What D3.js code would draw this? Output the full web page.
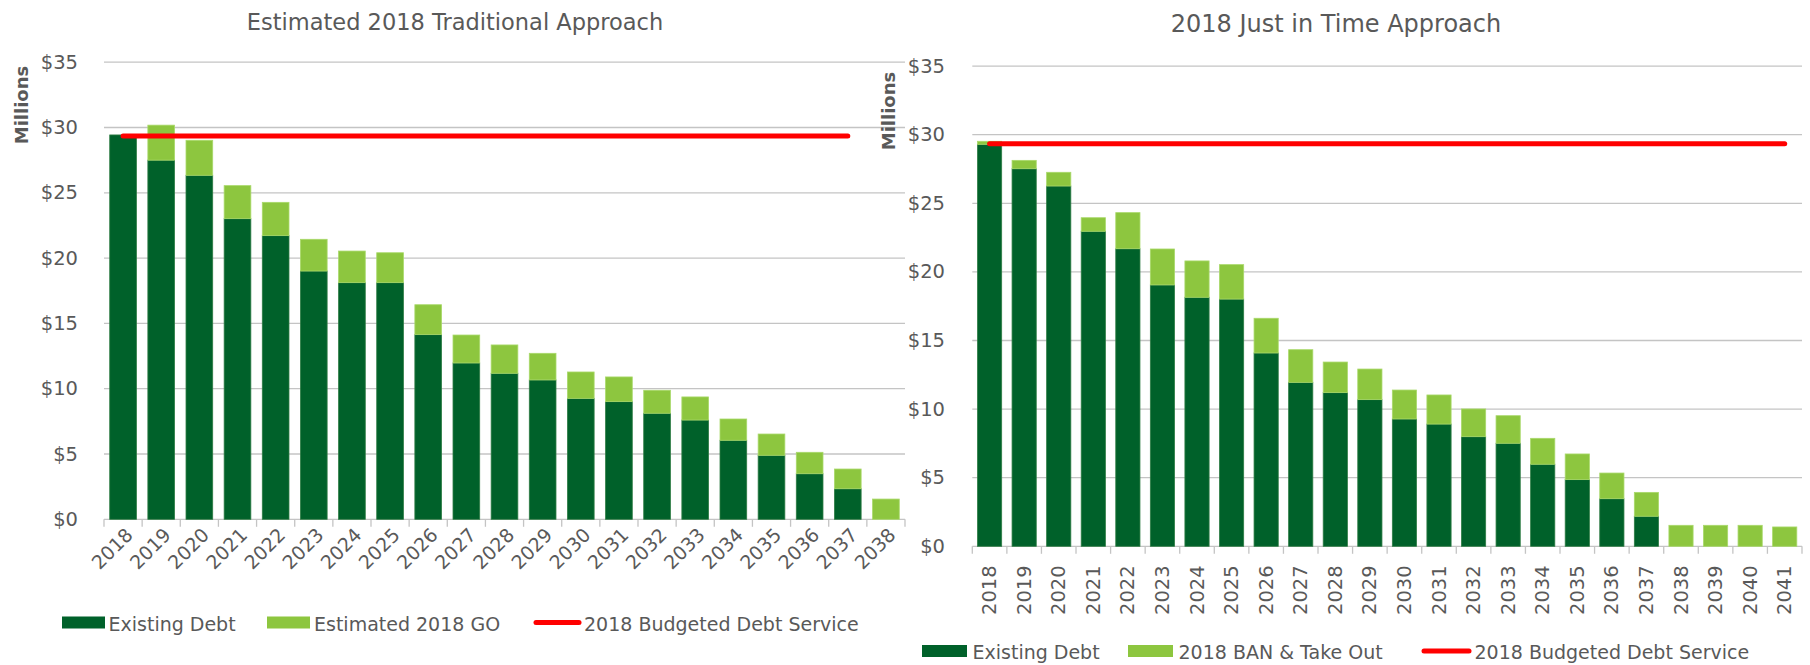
<!DOCTYPE html>
<html>
<head>
<meta charset="utf-8">
<script src="https://cdn.jsdelivr.net/npm/d3@7"></script>
<style>
  html, body { margin: 0; padding: 0; background: #ffffff; }
  svg { display: block; }
  text { font-family: "DejaVu Sans", sans-serif; fill: #595959; }
</style>
</head>
<body>
<svg id="chart" width="1810" height="665"></svg>
<script>
// ---------- DATA ----------
const yearsLeft = ["2018","2019","2020","2021","2022","2023","2024","2025","2026","2027","2028","2029","2030","2031","2032","2033","2034","2035","2036","2037","2038"];
const existingLeft = [29.43, 27.50, 26.34, 23.02, 21.72, 19.01, 18.12, 18.12, 14.14, 11.97, 11.18, 10.67, 9.26, 9.01, 8.12, 7.60, 6.05, 4.90, 3.49, 2.34, 0];
const goLeft       = [0.00, 2.68, 2.68, 2.53, 2.55, 2.43, 2.42, 2.29, 2.29, 2.14, 2.17, 2.04, 2.02, 1.89, 1.76, 1.77, 1.63, 1.63, 1.64, 1.51, 1.55];
const budgetLeft   = [29.35, 29.35, 29.35, 29.35, 29.35, 29.35, 29.35, 29.35, 29.35, 29.35, 29.35, 29.35, 29.35, 29.35, 29.35, 29.35, 29.35, 29.35, 29.35, 29.35, null];

const yearsRight = ["2018","2019","2020","2021","2022","2023","2024","2025","2026","2027","2028","2029","2030","2031","2032","2033","2034","2035","2036","2037","2038","2039","2040","2041"];
const existingRight = [29.30, 27.52, 26.26, 22.96, 21.69, 19.05, 18.15, 18.02, 14.09, 11.95, 11.20, 10.69, 9.28, 8.91, 7.99, 7.51, 5.98, 4.86, 3.47, 2.19, 0, 0, 0, 0];
const banRight      = [0.22, 0.61, 1.00, 0.99, 2.63, 2.62, 2.65, 2.51, 2.53, 2.38, 2.23, 2.23, 2.11, 2.12, 2.02, 2.01, 1.89, 1.87, 1.87, 1.74, 1.53, 1.53, 1.53, 1.41];
const budgetRight   = [29.34, 29.34, 29.34, 29.34, 29.34, 29.34, 29.34, 29.34, 29.34, 29.34, 29.34, 29.34, 29.34, 29.34, 29.34, 29.34, 29.34, 29.34, 29.34, 29.34, 29.34, 29.34, 29.34, 29.34];

const yTicks = [0, 5, 10, 15, 20, 25, 30, 35];
const yTickLabels = ["$0", "$5", "$10", "$15", "$20", "$25", "$30", "$35"];

const leftTitle = "Estimated 2018 Traditional Approach";
const rightTitle = "2018 Just in Time Approach";
const leftLegend = ["Existing Debt", "Estimated 2018 GO", "2018 Budgeted Debt Service"];
const rightLegend = ["Existing Debt", "2018 BAN & Take Out", "2018 Budgeted Debt Service"];
const yAxisTitle = "Millions";

// ---------- STYLE ----------
const DARK = "#00612A";
const LIGHT = "#8DC63F";
const RED = "#FF0000";
const GRID = "#C4C4C4";

const svg = d3.select("#chart");

function drawChart(cfg) {
  const g = svg.append("g");
  const x = d3.scaleBand().domain(cfg.years).range([cfg.x0, cfg.x1]).paddingInner(0.3).paddingOuter(0.15);
  const y = d3.scaleLinear().domain([0, 35]).range([cfg.yb, cfg.yt]);

  // gridlines
  g.append("g").selectAll("line").data(yTicks).join("line")
    .attr("x1", cfg.x0).attr("x2", cfg.x1)
    .attr("y1", d => y(d)).attr("y2", d => y(d))
    .attr("stroke", GRID).attr("stroke-width", 1.3);

  // y labels
  g.append("g").selectAll("text").data(yTicks).join("text")
    .attr("x", cfg.labelX).attr("y", d => y(d))
    .attr("text-anchor", "end").attr("dominant-baseline", "central")
    .attr("font-size", 19.5)
    .text((d, i) => yTickLabels[i]);

  // x axis ticks at band boundaries
  const step = x.step();
  const bounds = d3.range(cfg.years.length + 1).map(i => cfg.x0 + i * step);
  g.append("g").selectAll("line").data(bounds).join("line")
    .attr("x1", d => d).attr("x2", d => d)
    .attr("y1", y(0)).attr("y2", y(0) + 7.5)
    .attr("stroke", GRID).attr("stroke-width", 1.3);

  // stacked bars
  const rows = cfg.years.map((yr, i) => ({ yr, a: cfg.s1[i], b: cfg.s2[i] }));
  const bw = x.bandwidth();
  g.append("g").selectAll("rect").data(rows.filter(r => r.a > 0)).join("rect")
    .attr("x", d => x(d.yr)).attr("width", bw)
    .attr("y", d => y(d.a)).attr("height", d => y(0) - y(d.a))
    .attr("fill", DARK).attr("stroke", "#2f7d45").attr("stroke-width", 0.8);
  g.append("g").selectAll("rect").data(rows.filter(r => r.b > 0)).join("rect")
    .attr("x", d => x(d.yr)).attr("width", bw)
    .attr("y", d => y(d.a + d.b)).attr("height", d => y(d.a) - y(d.a + d.b))
    .attr("fill", LIGHT).attr("stroke", "#a9d96a").attr("stroke-width", 0.8);

  // budget line
  const line = d3.line()
    .defined(d => d.v != null)
    .x(d => x(d.yr) + bw / 2).y(d => y(d.v));
  g.append("path")
    .datum(cfg.years.map((yr, i) => ({ yr, v: cfg.line[i] })))
    .attr("d", line).attr("fill", "none")
    .attr("stroke", RED).attr("stroke-width", 5).attr("stroke-linecap", "round");

  // x labels
  const xl = g.append("g").selectAll("text").data(cfg.years).join("text")
    .attr("font-size", 19)
    .text(d => d);
  if (cfg.rot === -45) {
    xl.attr("text-anchor", "end")
      .attr("transform", d => `translate(${x(d) + bw / 2 + 6},${y(0) + 12}) rotate(-45)`)
      .attr("dominant-baseline", "central");
  } else {
    xl.attr("text-anchor", "end")
      .attr("transform", d => `translate(${x(d) + bw / 2},${y(0) + 19}) rotate(-90)`)
      .attr("dominant-baseline", "central")
      .attr("font-size", 19.5);
  }

  // title
  g.append("text").attr("x", cfg.titleX).attr("y", cfg.titleY)
    .attr("text-anchor", "middle").attr("font-size", cfg.titleSize)
    .text(cfg.title);

  // y axis title
  g.append("text")
    .attr("transform", `translate(${cfg.ytX},${cfg.ytY}) rotate(-90)`)
    .attr("text-anchor", "middle").attr("dominant-baseline", "central")
    .attr("font-size", 18).attr("font-weight", "bold")
    .text(yAxisTitle);

  // legend
  const lg = g.append("g");
  const L = cfg.legend;
  lg.append("rect").attr("x", L.sw1).attr("y", L.y - 6).attr("width", L.swW).attr("height", 12).attr("fill", DARK);
  lg.append("text").attr("x", L.t1).attr("y", L.y + 1).attr("dominant-baseline", "central").attr("font-size", 19).text(cfg.legendText[0]);
  lg.append("rect").attr("x", L.sw2).attr("y", L.y - 6).attr("width", L.swW).attr("height", 12).attr("fill", LIGHT);
  lg.append("text").attr("x", L.t2).attr("y", L.y + 1).attr("dominant-baseline", "central").attr("font-size", 19).text(cfg.legendText[1]);
  lg.append("line").attr("x1", L.l3).attr("x2", L.l3 + L.swW).attr("y1", L.y).attr("y2", L.y)
    .attr("stroke", RED).attr("stroke-width", 5).attr("stroke-linecap", "round");
  lg.append("text").attr("x", L.t3).attr("y", L.y + 1).attr("dominant-baseline", "central").attr("font-size", 19).text(cfg.legendText[2]);
}

drawChart({
  years: yearsLeft, s1: existingLeft, s2: goLeft, line: budgetLeft,
  x0: 104, x1: 905, yb: 519.3, yt: 62.2, labelX: 78, rot: -45,
  title: leftTitle, titleX: 455, titleY: 30, titleSize: 22.5,
  ytX: 21, ytY: 105,
  legendText: leftLegend,
  legend: { y: 622.5, swW: 43, sw1: 62, t1: 108.5, sw2: 267, t2: 314, l3: 536, t3: 584 }
});

drawChart({
  years: yearsRight, s1: existingRight, s2: banRight, line: budgetRight,
  x0: 972.3, x1: 1802, yb: 546.3, yt: 66.1, labelX: 945, rot: -90,
  title: rightTitle, titleX: 1336, titleY: 32, titleSize: 24,
  ytX: 888, ytY: 111,
  legendText: rightLegend,
  legend: { y: 651, swW: 45, sw1: 922, t1: 972.5, sw2: 1128, t2: 1178.5, l3: 1424, t3: 1474.5 }
});
</script>
</body>
</html>
